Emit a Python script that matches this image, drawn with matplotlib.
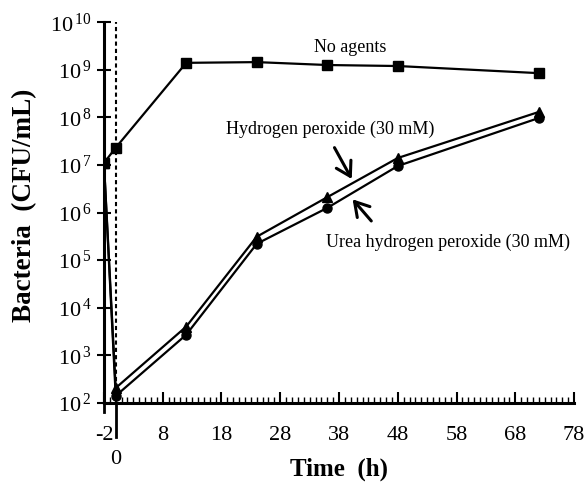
import numpy as np
import matplotlib
matplotlib.use("Agg")
import matplotlib.pyplot as plt
from matplotlib.ticker import LogLocator, FixedLocator, MultipleLocator

plt.rcParams['font.family'] = ['Liberation Serif', 'DejaVu Serif']
plt.rcParams['mathtext.fontset'] = 'custom'
plt.rcParams['mathtext.rm'] = 'Liberation Serif'
plt.rcParams['mathtext.it'] = 'Liberation Serif'

# data
time = [-2, 0, 12, 24, 36, 48, 72]
no_agents = [1.1e7, 2.3e7, 1.4e9, 1.45e9, 1.26e9, 1.2e9, 8.5e8]
hydrogen_peroxide = [1.1e7, 205, 4.0e3, 3.1e5, 2.1e6, 1.4e7, 1.3e8]
urea_hydrogen_peroxide = [1.1e7, 140, 2.7e3, 2.2e5, 1.25e6, 9.5e6, 9.7e7]
x_ticks = [-2, 8, 18, 28, 38, 48, 58, 68, 78]
y_decades = [2, 3, 4, 5, 6, 7, 8, 9, 10]

fig = plt.figure(figsize=(5.84, 4.83), dpi=100)
ax = fig.add_axes([0.178, 0.166, 0.805, 0.788])

ax.plot(time, no_agents, color='black', lw=1.6, marker='s', ms=6.5)
ax.plot(time, hydrogen_peroxide, color='black', lw=1.6, marker='^', ms=7)
ax.plot(time, urea_hydrogen_peroxide, color='black', lw=1.6, marker='o', ms=6.5)

ax.set_yscale('log')
ax.set_ylim(1e2, 1e10)
ax.set_xlim(-2, 78)

ax.axvline(0, color='black', lw=1.5, ls=(0, (2, 1.5)))
ax.plot([0, 0], [-0.09, 0], transform=ax.get_xaxis_transform(), color='black',
        lw=2.0, clip_on=False)
ax.plot([-2, -2], [-0.025, 0], transform=ax.get_xaxis_transform(), color='black',
        lw=2.0, clip_on=False)
ax.text(0, -0.15, '0', transform=ax.get_xaxis_transform(), ha='center', va='center',
        fontsize=16)

ax.spines['top'].set_visible(False)
ax.spines['right'].set_visible(False)
ax.spines['left'].set_linewidth(2.2)
ax.spines['bottom'].set_linewidth(2.2)

ax.set_xticks(x_ticks)
ax.set_xticklabels([str(t) for t in x_ticks])
ax.xaxis.set_minor_locator(MultipleLocator(1))
ax.yaxis.set_major_locator(FixedLocator([10.0 ** d for d in y_decades]))
ax.set_yticklabels(['$10^{\\,%d}$' % d for d in y_decades])
ax.yaxis.set_minor_locator(LogLocator(base=10, subs=np.arange(2, 10)))

ax.tick_params(axis='x', which='major', direction='in', length=8, width=1.5,
               labelsize=16, pad=17)
ax.tick_params(axis='x', which='minor', direction='in', length=4, width=1)
ax.tick_params(axis='y', which='major', direction='inout', length=10, width=1.5,
               labelsize=16, pad=4)
ax.tick_params(axis='y', which='minor', direction='in', length=5, width=1)

ax.set_xlabel('Time  (h)', fontsize=18, fontweight='bold')
ax.xaxis.set_label_coords(0.5, -0.145)
ax.set_ylabel('Bacteria  (CFU/mL)', fontsize=19.5, fontweight='bold')
ax.yaxis.set_label_coords(-0.142, 0.52)

ax.text(39.9, 3e9, 'No agents', fontsize=13, ha='center', va='center')
ax.text(36.5, 5.5e7, 'Hydrogen peroxide (30 mM)', fontsize=13, ha='center', va='center')
ax.text(56.6, 2.4e5, 'Urea hydrogen peroxide (30 mM)', fontsize=13, ha='center', va='center')

ax.annotate('', xy=(40.4, 4.5e6), xytext=(37.0, 2.6e7),
            arrowprops=dict(arrowstyle='->,head_length=0.5,head_width=0.3', lw=2.2,
                            color='black', mutation_scale=20))
ax.annotate('', xy=(40.0, 2.1e6), xytext=(43.8, 6.0e5),
            arrowprops=dict(arrowstyle='->,head_length=0.5,head_width=0.3', lw=2.2,
                            color='black', mutation_scale=20))

fig.savefig('out.png', dpi=100)
